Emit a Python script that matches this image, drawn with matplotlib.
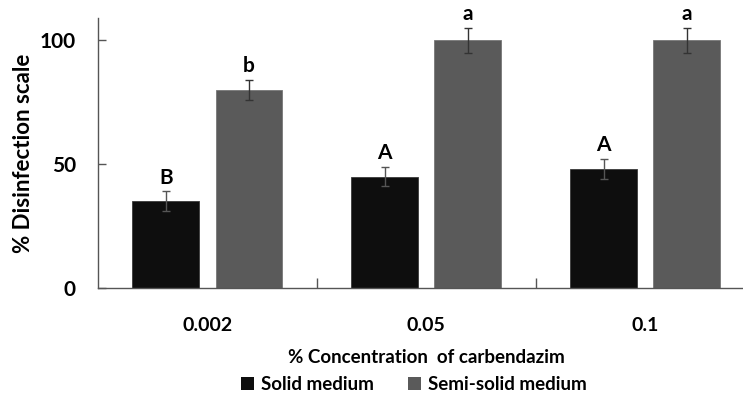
import numpy as np
import matplotlib.pyplot as plt
from matplotlib.patches import Patch

# -------------------------------------------------
# Data
# -------------------------------------------------
concentrations = ["0.002", "0.05", "0.1"]
solid = [35, 45, 48]
solid_err = [4, 4, 4]
semi_solid = [80, 100, 100]
semi_err = [4, 5, 5]
solid_letters = ["B", "A", "A"]
semi_letters = ["b", "a", "a"]

plt.rcParams["font.family"] = ["Lato", "DejaVu Sans"]
plt.rcParams["font.weight"] = "bold"

fig = plt.figure(figsize=(7.43, 4.03), dpi=100)
ax = fig.add_axes([0.1319, 0.2854, 0.8836, 0.670])

x = np.arange(len(concentrations))
w = 0.305
off = 0.19

ax.bar(x - off, solid, w, color="#0e0e0e", edgecolor="#3a3a3a", linewidth=0.6)
ax.bar(x + off, semi_solid, w, color="#5a5a5a", edgecolor="#777777", linewidth=0.6)
ax.errorbar(x - off, solid, yerr=solid_err, fmt="none", ecolor="#555555",
            elinewidth=1, capsize=3, capthick=1)
ax.errorbar(x + off, semi_solid, yerr=semi_err, fmt="none", ecolor="#333333",
            elinewidth=1, capsize=3, capthick=1)

for i in range(len(x)):
    ax.text(x[i] - off, solid[i] + solid_err[i] + 1.5, solid_letters[i],
            ha="center", va="bottom", fontsize=15, fontweight="bold")
    ax.text(x[i] + off, semi_solid[i] + semi_err[i] + 1.5, semi_letters[i],
            ha="center", va="bottom", fontsize=15, fontweight="bold")

ax.set_xlim(-0.5, 2.5)
ax.set_ylim(0, 109)
ax.set_yticks([0, 50, 100])
ax.set_yticklabels(["0", "50", "100"], fontsize=15, fontweight="bold")
ax.tick_params(axis="y", direction="in", length=6, width=1, color="#555555", pad=16)

# group labels without tick marks, separator ticks between groups
ax.set_xticks(x)
ax.set_xticklabels(concentrations, fontsize=14, fontweight="bold")
ax.tick_params(axis="x", length=0, pad=21)
ax.set_xticks([0.5, 1.5], minor=True)
ax.tick_params(axis="x", which="minor", direction="in", length=7, width=1, color="#555555")

ax.set_ylabel("% Disinfection scale", fontsize=16, fontweight="bold")
ax.yaxis.set_label_coords(-0.097, 0.5)
ax.set_xlabel("% Concentration  of carbendazim", fontsize=13.5, fontweight="bold", labelpad=11)

for side in ["top", "right"]:
    ax.spines[side].set_visible(False)
for side in ["left", "bottom"]:
    ax.spines[side].set_color("#555555")
    ax.spines[side].set_linewidth(1)

handles = [Patch(facecolor="#0e0e0e", label="Solid medium"),
           Patch(facecolor="#5a5a5a", label="Semi-solid medium")]
fig.legend(handles=handles, loc="center", bbox_to_anchor=(0.557, 0.045), ncol=2,
           frameon=False, fontsize=13.5, handlelength=0.7, handleheight=0.7,
           handletextpad=0.4, columnspacing=1.8)

fig.savefig("out.png", dpi=100)
